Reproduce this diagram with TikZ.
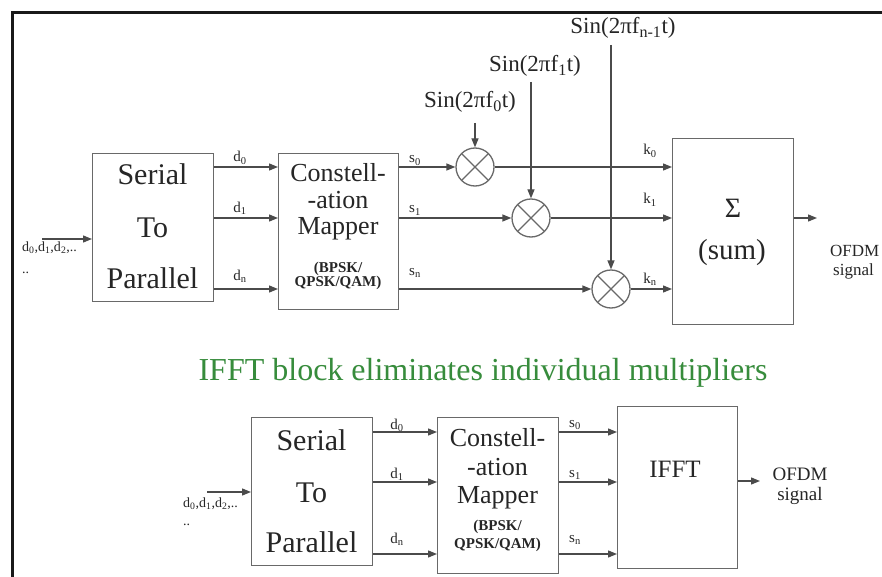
\documentclass[tikz,border=0pt]{standalone}
\usepackage{fontspec}
\setmainfont{Liberation Serif}
\usetikzlibrary{arrows.meta}
\definecolor{linegray}{RGB}{75,75,75}
\definecolor{boxgray}{RGB}{105,105,105}
\definecolor{titlegreen}{RGB}{55,140,60}
\newcommand{\myfs}[1]{\fontsize{#1}{#1}\selectfont}
\newcommand{\sub}[1]{\textsubscript{#1}}
\begin{document}
\begin{tikzpicture}[x=1pt,y=-1pt,
  box/.style={draw=boxgray,line width=1.4pt,inner sep=0pt,anchor=north west},
  arr/.style={draw=linegray,line width=1.3pt,-{Triangle[length=9pt,width=7pt]}},
  txt/.style={anchor=base,inner sep=0pt,text=black!85},
  lbl/.style={txt,font=\myfs{15}},
  mul/.style={circle,draw=boxgray,line width=1.3pt,minimum size=38pt,inner sep=0pt,
    path picture={\draw[boxgray,line width=1.1pt]
      (path picture bounding box.south west) -- (path picture bounding box.north east)
      (path picture bounding box.north west) -- (path picture bounding box.south east);}}]
\useasboundingbox (0,0) rectangle (882,577);
\fill[white] (0,0) rectangle (882,577);
% frame
\draw[line width=3pt,black!90] (12,600) -- (12,13) -- (900,13);

% ================= TOP DIAGRAM =================
\node[box,minimum width=121pt,minimum height=148pt] (s2p) at (92,153) {};
\node[txt,font=\myfs{30}] (s2pA) at (152.5,185) {Serial};
\node[txt,font=\myfs{30}] (s2pB) at (152.5,237) {To};
\node[txt,font=\myfs{30}] (s2pC) at (152.5,288) {Parallel};

\node[box,minimum width=120pt,minimum height=156pt] (map) at (278,153) {};
\node[txt,font=\myfs{26}] (mapA) at (338,182) {Constell-};
\node[txt,font=\myfs{26}] (mapB) at (338,209) {-ation};
\node[txt,font=\myfs{26}] (mapC) at (338,234) {Mapper};
\node[txt,font=\bfseries\myfs{15}] (mapD) at (338,272) {(BPSK/};
\node[txt,font=\bfseries\myfs{15}] (mapE) at (338,286) {QPSK/QAM)};

\node[box,minimum width=121pt,minimum height=186pt] (sum) at (672,138) {};
\node[txt,font=\myfs{28}] (sig) at (733,218) {Σ};
\node[txt,font=\myfs{29}] (sumt) at (732,259) {(sum)};

% input
\coordinate (in1) at (42,239);
\draw[arr] (in1) -- (in1 -| s2p.west);
\node[txt,anchor=base west,font=\myfs{14}] (inA) at (22,251) {d\sub{0},d\sub{1},d\sub{2},..};
\node[txt,anchor=base west,font=\myfs{14}] (inB) at (22,273) {..};

% d lines
\draw[arr] (s2p.east |- 0,167) -- (map.west |- 0,167);
\draw[arr] (s2p.east |- 0,218) -- (map.west |- 0,218);
\draw[arr] (s2p.east |- 0,289) -- (map.west |- 0,289);
\node[lbl] (d0) at (240,162) {d\sub{0}};
\node[lbl] (d1) at (240,212) {d\sub{1}};
\node[lbl] (dn) at (240,280) {d\sub{n}};

% multipliers
\node[mul] (m0) at (475,167) {};
\node[mul] (m1) at (531,218) {};
\node[mul] (m2) at (611,289) {};

\draw[arr] (map.east |- m0) -- (m0);
\draw[arr] (map.east |- m1) -- (m1);
\draw[arr] (map.east |- m2) -- (m2);
\node[lbl] (s0) at (415,163) {s\sub{0}};
\node[lbl] (s1) at (415,213) {s\sub{1}};
\node[lbl] (sn) at (415,275) {s\sub{n}};

\draw[arr] (m0) -- (m0 -| sum.west);
\draw[arr] (m1) -- (m1 -| sum.west);
\draw[arr] (m2) -- (m2 -| sum.west);
\node[lbl] (k0) at (650,155) {k\sub{0}};
\node[lbl] (k1) at (650,204) {k\sub{1}};
\node[lbl] (kn) at (650,283) {k\sub{n}};

% sine inputs
\coordinate (c0) at (475,123);
\coordinate (c1) at (531,82);
\coordinate (c2) at (611,45);
\draw[arr] (c0) -- (m0);
\draw[arr] (c1) -- (m1);
\draw[arr] (c2) -- (m2);
\node[txt,font=\myfs{23}] (sin0) at (470,108) {Sin(2πf\sub{0}t)};
\node[txt,font=\myfs{23}] (sin1) at (535,72) {Sin(2πf\sub{1}t)};
\node[txt,font=\myfs{23}] (sin2) at (623,34) {Sin(2πf\sub{n-1}t)};

% output
\coordinate (o1) at (817,218);
\draw[arr] (sum.east |- o1) -- (o1);
\node[txt,anchor=base west,font=\myfs{17}] (ofdmA) at (830,256) {OFDM};
\node[txt,anchor=base west,font=\myfs{17}] (ofdmB) at (833,275) {signal};

% ================= TITLE =================
\node[txt,font=\myfs{32},text=titlegreen] (title) at (483,380) {IFFT block eliminates individual multipliers};

% ================= BOTTOM DIAGRAM =================
\node[box,minimum width=121pt,minimum height=148pt] (bs2p) at (251,417) {};
\node[txt,font=\myfs{30}] (bs2pA) at (311.5,450) {Serial};
\node[txt,font=\myfs{30}] (bs2pB) at (311.5,502) {To};
\node[txt,font=\myfs{30}] (bs2pC) at (311.5,552) {Parallel};

\node[box,minimum width=121pt,minimum height=156pt] (bmap) at (437,417) {};
\node[txt,font=\myfs{26}] (bmapA) at (497.5,446) {Constell-};
\node[txt,font=\myfs{26}] (bmapB) at (497.5,475) {-ation};
\node[txt,font=\myfs{26}] (bmapC) at (497.5,503) {Mapper};
\node[txt,font=\bfseries\myfs{15}] (bmapD) at (497.5,530) {(BPSK/};
\node[txt,font=\bfseries\myfs{15}] (bmapE) at (497.5,548) {QPSK/QAM)};

\node[box,minimum width=120pt,minimum height=162pt] (ifft) at (617,406) {};
\node[txt,font=\myfs{25}] (ifftt) at (675,477) {IFFT};

\coordinate (in2) at (207,492);
\draw[arr] (in2) -- (in2 -| bs2p.west);
\node[txt,anchor=base west,font=\myfs{14}] (binA) at (183,507) {d\sub{0},d\sub{1},d\sub{2},..};
\node[txt,anchor=base west,font=\myfs{14}] (binB) at (183,525) {..};

\draw[arr] (bs2p.east |- 0,432) -- (bmap.west |- 0,432);
\draw[arr] (bs2p.east |- 0,482) -- (bmap.west |- 0,482);
\draw[arr] (bs2p.east |- 0,554) -- (bmap.west |- 0,554);
\node[lbl] (bd0) at (397,429) {d\sub{0}};
\node[lbl] (bd1) at (397,478) {d\sub{1}};
\node[lbl] (bdn) at (397,543) {d\sub{n}};

\draw[arr] (bmap.east |- 0,432) -- (ifft.west |- 0,432);
\draw[arr] (bmap.east |- 0,482) -- (ifft.west |- 0,482);
\draw[arr] (bmap.east |- 0,554) -- (ifft.west |- 0,554);
\node[lbl] (bs0) at (575,427) {s\sub{0}};
\node[lbl] (bs1) at (575,477) {s\sub{1}};
\node[lbl] (bsn) at (575,542) {s\sub{n}};

\coordinate (o2) at (760,481);
\draw[arr] (ifft.east |- o2) -- (o2);
\node[txt,font=\myfs{19}] (bofdmA) at (800,480) {OFDM};
\node[txt,font=\myfs{19}] (bofdmB) at (800,500) {signal};
\end{tikzpicture}
\end{document}
